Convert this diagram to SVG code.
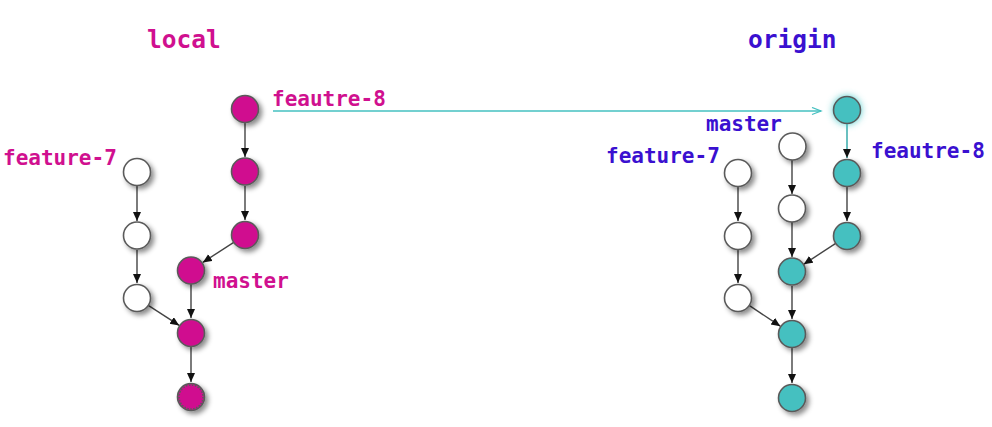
<svg xmlns="http://www.w3.org/2000/svg" width="992" height="427" viewBox="0 0 992 427">
<defs>
<filter id="sh" x="-50%" y="-50%" width="200%" height="200%"><feDropShadow dx="3" dy="3" stdDeviation="2.5" flood-color="#000" flood-opacity="0.45"/></filter>
<filter id="glow" x="-80%" y="-80%" width="260%" height="260%"><feDropShadow dx="0" dy="0" stdDeviation="3.5" flood-color="#45c8c8" flood-opacity="0.9"/></filter>
<marker id="ah" markerWidth="10" markerHeight="10" refX="9" refY="4" orient="auto" markerUnits="userSpaceOnUse"><path d="M0,0 L9,4 L0,8 z" fill="#111"/></marker>
<marker id="ta" markerWidth="12" markerHeight="10" refX="10" refY="4" orient="auto" markerUnits="userSpaceOnUse"><path d="M1,0.5 L10,4 L1,7.5" fill="none" stroke="#45c0c0" stroke-width="1.3"/></marker>
</defs>
<style>
.l{font-family:"DejaVu Sans Mono","Liberation Mono",monospace;font-weight:bold;font-size:21px}
.h{font-family:"DejaVu Sans Mono","Liberation Mono",monospace;font-weight:bold;font-size:24.5px}
.m{fill:#d0108f}.b{fill:#3a10d0}
.e{stroke:#444;stroke-width:1.4;fill:none;marker-end:url(#ah)}
.n circle{stroke:#5a5a5a;stroke-width:1.6;filter:url(#sh)}
.w{fill:#fff}.p{fill:#d0108f}.t{fill:#45c0c0}
</style>
<rect width="992" height="427" fill="#fff"/>
<text class="h m" x="147" y="48">local</text>
<text class="h b" x="748" y="48">origin</text>
<g id="edges">
<line class="e" x1="245" y1="123" x2="245" y2="157"/>
<line class="e" x1="245" y1="186" x2="245" y2="220"/>
<line class="e" x1="234.1" y1="242.1" x2="202.8" y2="262.4"/>
<line class="e" x1="137" y1="186" x2="137" y2="221"/>
<line class="e" x1="137" y1="250" x2="137" y2="283"/>
<line class="e" x1="147.9" y1="305.1" x2="179.2" y2="325.4"/>
<line class="e" x1="191" y1="284" x2="191" y2="318"/>
<line class="e" x1="191" y1="347" x2="191" y2="382"/>
<line x1="273" y1="111" x2="821" y2="111" stroke="#45c0c0" stroke-width="1.3" marker-end="url(#ta)"/>
<line class="e" x1="847" y1="124" x2="847" y2="158" style="stroke:#2aa5a5"/>
<line class="e" x1="847" y1="187" x2="847" y2="221"/>
<line class="e" x1="836.1" y1="243.1" x2="803.7" y2="264.3"/>
<line class="e" x1="792" y1="160" x2="792" y2="194"/>
<line class="e" x1="792" y1="222" x2="792" y2="257"/>
<line class="e" x1="792" y1="286" x2="792" y2="319"/>
<line class="e" x1="792" y1="348" x2="792" y2="383"/>
<line class="e" x1="738" y1="187" x2="738" y2="221"/>
<line class="e" x1="738" y1="250" x2="738" y2="283"/>
<line class="e" x1="748.8" y1="305.2" x2="780.3" y2="326.2"/>
</g>
<g id="local-nodes" class="n">
<g id="L8a"><circle class="p" cx="245" cy="109" r="13.5"/></g>
<g id="L8b"><circle class="p" cx="245" cy="171.5" r="13.5"/></g>
<g id="L8c"><circle class="p" cx="245" cy="235" r="13.5"/></g>
<g id="L7a"><circle class="w" cx="137" cy="172" r="13.5"/></g>
<g id="L7b"><circle class="w" cx="137" cy="235.5" r="13.5"/></g>
<g id="L7c"><circle class="w" cx="137" cy="298" r="13.5"/></g>
<g id="Lm"><circle class="p" cx="191" cy="270.5" r="13.5"/></g>
<g id="Lmerge"><circle class="p" cx="191" cy="333" r="13.5"/></g>
<g id="Lbot"><circle class="p" cx="191" cy="397" r="13.5"/><circle cx="191" cy="397" r="12" fill="none" stroke="#fff" stroke-width="0.8" stroke-dasharray="1.5 1.5" style="filter:none"/></g>
</g>
<g id="origin-nodes" class="n">
<g id="O8a"><circle class="t" cx="847" cy="110" r="13.5" style="filter:url(#glow)"/></g>
<g id="O8b"><circle class="t" cx="847" cy="173" r="13.5"/></g>
<g id="O8c"><circle class="t" cx="847" cy="236" r="13.5"/></g>
<g id="Oma"><circle class="w" cx="792.5" cy="146.5" r="13.5"/></g>
<g id="Omb"><circle class="w" cx="792" cy="208.5" r="13.5"/></g>
<g id="Omc"><circle class="t" cx="792" cy="271.5" r="13.5"/></g>
<g id="Omerge"><circle class="t" cx="792" cy="334" r="13.5"/></g>
<g id="Obot"><circle class="t" cx="792" cy="398" r="13.5"/></g>
<g id="O7a"><circle class="w" cx="738" cy="173" r="13.5"/></g>
<g id="O7b"><circle class="w" cx="738" cy="236" r="13.5"/></g>
<g id="O7c"><circle class="w" cx="738" cy="298" r="13.5"/></g>
</g>
<g id="labels">
<text class="l m" x="272" y="106">feautre-8</text>
<text class="l m" x="3" y="165">feature-7</text>
<text class="l m" x="213" y="288">master</text>
<text class="l b" x="706" y="131">master</text>
<text class="l b" x="606" y="163">feature-7</text>
<text class="l b" x="871" y="158">feautre-8</text>
</g>
</svg>
